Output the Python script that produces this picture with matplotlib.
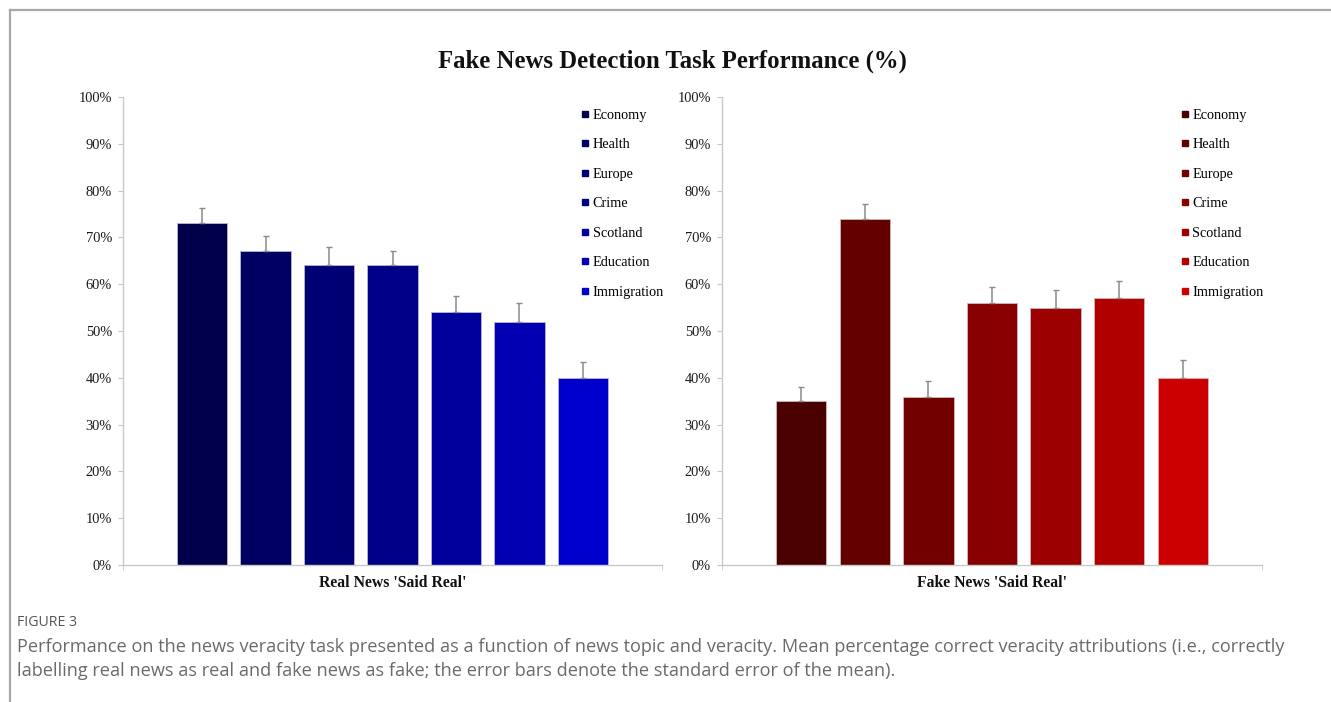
import matplotlib
matplotlib.use("Agg")
import matplotlib.pyplot as plt
from matplotlib.lines import Line2D
from matplotlib.ticker import FuncFormatter

# ---- data -------------------------------------------------------------
topics = ["Economy", "Health", "Europe", "Crime", "Scotland", "Education", "Immigration"]

real_said_real = [73, 67, 64, 64, 54, 52, 40]
real_sem = [3.3, 3.3, 4.0, 3.2, 3.5, 4.0, 3.3]

fake_said_real = [35, 74, 36, 56, 55, 57, 40]
fake_sem = [3.1, 3.2, 3.4, 3.4, 3.7, 3.6, 3.7]

blue_shades = ["#00004B", "#000063", "#000074", "#000086", "#00009C", "#0000B2", "#0000CC"]
red_shades = ["#4B0000", "#630000", "#720000", "#880000", "#9C0000", "#B00000", "#CC0000"]

panel_labels = ["Real News 'Said Real'", "Fake News 'Said Real'"]
title = "Fake News Detection Task Performance (%)"
fig_label = "FIGURE 3"
caption_lines = [
    "Performance on the news veracity task presented as a function of news topic and veracity. "
    "Mean percentage correct veracity attributions (i.e., correctly",
    "labelling real news as real and fake news as fake; the error bars denote the standard error of the mean).",
]
yticks = list(range(0, 101, 10))

# ---- figure -----------------------------------------------------------
W, H = 1331, 702
fig = plt.figure(figsize=(W / 100, H / 100), dpi=100)
serif = ["Liberation Serif", "DejaVu Serif"]
axis_grey = "#C8C8C8"


def px_axes(x0, y0, x1, y1):
    return fig.add_axes([x0 / W, 1 - y1 / H, (x1 - x0) / W, (y1 - y0) / H])


def draw_panel(ax, values, errs, colors, edge, label, legend_x):
    xs = list(range(len(values)))
    ax.bar(xs, values, width=0.79, color=colors, edgecolor=edge, linewidth=0.6, zorder=2)
    ax.errorbar(xs, values, yerr=[[0] * len(errs), errs], fmt="none", ecolor="#8A8A8A",
                elinewidth=1.1, capsize=2.0, capthick=1.0, zorder=3)
    x_lo, x_hi = -1.245, len(values) - 1 + 1.245
    ax.set_xlim(x_lo, x_hi)
    ax.set_ylim(0, 100)
    ax.set_yticks(yticks)
    ax.yaxis.set_major_formatter(FuncFormatter(lambda v, _: f"{int(v)}%"))
    for s in ("top", "right"):
        ax.spines[s].set_visible(False)
    for s in ("left", "bottom"):
        ax.spines[s].set_color(axis_grey)
        ax.spines[s].set_linewidth(1.0)
    ax.tick_params(axis="y", direction="out", length=3.6, color=axis_grey, labelsize=10.4,
                   labelcolor="#1A1A1A", pad=4.4)
    ax.set_xticks([(len(values) - 1) / 2])
    ax.set_xticklabels([label], fontfamily=serif, fontweight="bold", fontsize=11.3)
    ax.set_xticks([x_lo, x_hi], minor=True)
    ax.tick_params(axis="x", which="major", length=0, pad=7, labelcolor="#111111")
    ax.tick_params(axis="x", which="minor", direction="out", length=3.6, color=axis_grey)
    for t in ax.get_yticklabels():
        t.set_fontfamily(serif)

    handles = [Line2D([], [], marker="s", linestyle="none", markersize=4.8, color=c) for c in colors]
    fig.legend(handles, topics, loc="upper left", bbox_to_anchor=(legend_x / W, 1 - 109 / H),
               bbox_transform=fig.transFigure, frameon=False, borderpad=0, borderaxespad=0,
               handlelength=0.6, handletextpad=0.2, labelspacing=1.15,
               prop={"family": serif, "size": 10.3})


ax_left = px_axes(123, 97, 662, 565)
draw_panel(ax_left, real_said_real, real_sem, blue_shades, "#B8B8D0", panel_labels[0], 581.2)

ax_right = px_axes(722, 97, 1262, 565)
draw_panel(ax_right, fake_said_real, fake_sem, red_shades, "#D0B8B8", panel_labels[1], 1180.7)

fig.text(672 / W, 1 - 61 / H, title, ha="center", va="center", fontfamily=serif,
         fontweight="bold", fontsize=17.85, color="#111111")

# caption
cap_font = ["Open Sans", "DejaVu Sans"]
fig.text(17 / W, 1 - 622 / H, fig_label, ha="left", va="center", fontfamily=cap_font,
         fontsize=10.2, color="#555555")
for i, line in enumerate(caption_lines):
    fig.text(17 / W, 1 - (647 + 24 * i) / H, line, ha="left", va="center", fontfamily=cap_font,
             fontsize=13.1, color="#6A6A6A")

# outer frame (left and top edges)
frame_kw = dict(color="#A8A8A8", linewidth=1.6, transform=fig.transFigure)
fig.add_artist(Line2D([9.5 / W, 9.5 / W], [0, 1 - 9.5 / H], **frame_kw))
fig.add_artist(Line2D([9.5 / W, 1], [1 - 9.5 / H, 1 - 9.5 / H], **frame_kw))

fig.savefig("out.png", dpi=100)
